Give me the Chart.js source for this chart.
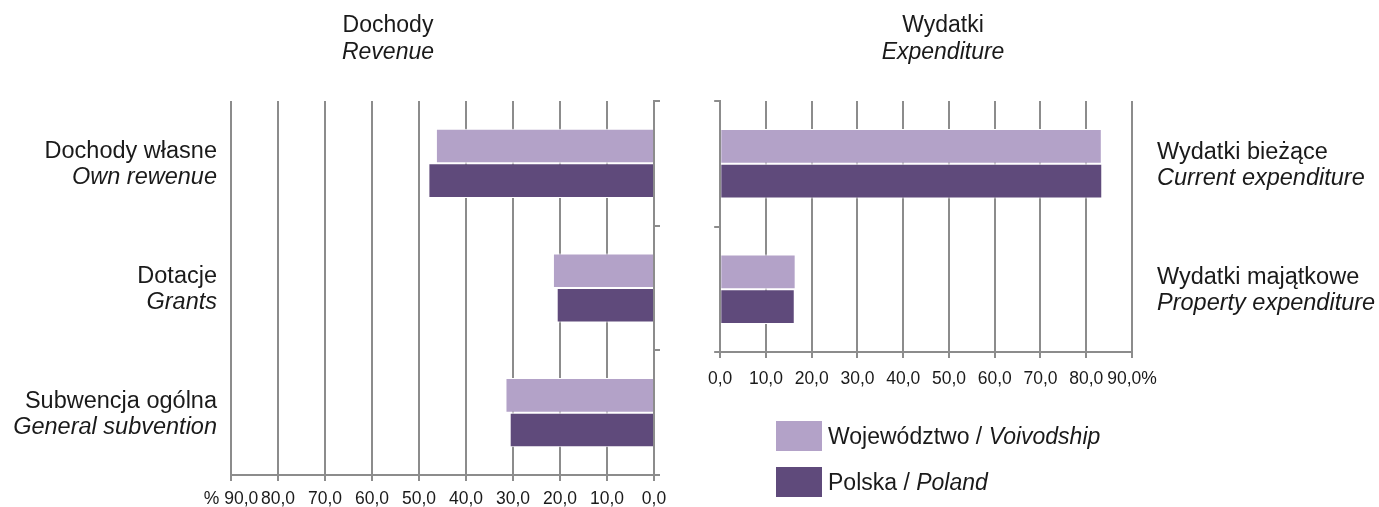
<!DOCTYPE html>
<html>
<head>
<meta charset="utf-8">
<script src="https://cdn.jsdelivr.net/npm/chart.js@4.4.1/dist/chart.umd.min.js"></script>
<style>
  body { margin: 0; background: #fff; font-family: "Liberation Sans", Arial, sans-serif; color: #1a1a1a; }
  #wrap { position: relative; width: 1379px; height: 507px; }
  .box { position: absolute; top: 0; height: 507px; }
  .title { position: absolute; font-size: 23px; line-height: 27px; text-align: center; width: 300px; }
  .title i, .leg i { font-style: italic; }
  .leg { position: absolute; left: 776px; font-size: 23px; line-height: 27px; }
  .leg span.sw { position: absolute; left: 0; width: 46px; height: 30px; }
  .leg span.tx { position: absolute; left: 52px; white-space: nowrap; }
</style>
</head>
<body>
<div id="wrap">
  <div class="box" style="left:0;width:700px"><canvas id="revenueChart"></canvas></div>
  <div class="box" style="left:697px;width:682px"><canvas id="expenditureChart"></canvas></div>
  <div class="title" style="left:238px;top:11px">Dochody<br><i>Revenue</i></div>
  <div class="title" style="left:793px;top:11px">Wydatki<br><i>Expenditure</i></div>
  <div id="legend"></div>
</div>
<script>
// dane
const revenuePl = ['Dochody własne', 'Dotacje', 'Subwencja ogólna'];
const revenueEn = ['Own rewenue', 'Grants', 'General subvention'];
const revenueWoj = [46.4, 21.5, 31.6];
const revenuePolska = [48.0, 20.7, 30.7];

const expenditurePl = ['Wydatki bieżące', 'Wydatki majątkowe'];
const expenditureEn = ['Current expenditure', 'Property expenditure'];
const expenditureWoj = [83.4, 16.5];
const expenditurePolska = [83.5, 16.3];

const seriesPl = ['Województwo', 'Polska'];
const seriesEn = ['Voivodship', 'Poland'];
const seriesColors = ['#b3a2c8', '#5f4a7b'];

const xTicks = [0, 10, 20, 30, 40, 50, 60, 70, 80, 90];

const FONT = '"Liberation Sans", Arial, sans-serif';
const GRID = '#8c8c8c';

function fmt(v) {
  return v.toFixed(1).replace('.', ',');
}

const categoryLabels = {
  id: 'categoryLabels',
  afterDraw(chart, args, opts) {
    const ctx = chart.ctx;
    const y = chart.scales.y;
    ctx.save();
    ctx.fillStyle = '#1a1a1a';
    ctx.textAlign = opts.align;
    ctx.textBaseline = 'alphabetic';
    opts.pl.forEach((txt, i) => {
      const yc = y.getPixelForValue(i);
      ctx.font = '23.5px ' + FONT;
      ctx.fillText(txt, opts.x, yc - 5);
      ctx.font = 'italic 23.5px ' + FONT;
      ctx.fillText(opts.en[i], opts.x, yc + 21);
    });
    ctx.restore();
  }
};

function datasets(woj, pol) {
  return [woj, pol].map((d, i) => ({
    label: seriesPl[i] + ' / ' + seriesEn[i],
    data: d,
    backgroundColor: seriesColors[i],
    borderColor: '#ffffff',
    borderWidth: 1,
    categoryPercentage: 0.555,
    barPercentage: 1
  }));
}

function makeChart(id, labels, woj, pol, side) {
  const left = side === 'left';
  return new Chart(document.getElementById(id).getContext('2d'), {
    type: 'bar',
    data: { labels: labels, datasets: datasets(woj, pol) },
    options: {
      indexAxis: 'y',
      responsive: true,
      maintainAspectRatio: false,
      animation: false,
      layout: {
        padding: left
          ? { left: 231, top: 101, right: 38, bottom: 0 }
          : { left: 15, top: 101, right: 247, bottom: 119 }
      },
      plugins: {
        legend: { display: false },
        tooltip: { enabled: false },
        categoryLabels: left
          ? { x: 217, align: 'right', pl: revenuePl, en: revenueEn }
          : { x: 460, align: 'left', pl: expenditurePl, en: expenditureEn }
      },
      scales: {
        x: {
          type: 'linear',
          min: 0,
          max: 90,
          reverse: left,
          afterBuildTicks: s => { s.ticks = xTicks.map(v => ({ value: v })); },
          afterFit: s => { s.height = left ? 32 : 36; },
          ticks: {
            color: '#1a1a1a',
            font: { family: FONT, size: 17.5 },
            padding: left ? 8 : 11,
            maxRotation: 0,
            autoSkip: false,
            callback: v => {
              if (v === 90) return left ? '% ' + fmt(v) : fmt(v) + '%';
              return fmt(v);
            }
          },
          grid: { color: GRID, lineWidth: 2, tickLength: 6 },
          border: { color: GRID, width: 2 }
        },
        y: {
          position: left ? 'right' : 'left',
          afterFit: s => { s.width = 8; },
          ticks: { display: false },
          grid: { drawOnChartArea: false, color: GRID, lineWidth: 2, tickLength: 6, offset: true },
          border: { color: GRID, width: 2 }
        }
      }
    },
    plugins: [categoryLabels]
  });
}

makeChart('revenueChart', revenuePl, revenueWoj, revenuePolska, 'left');
makeChart('expenditureChart', expenditurePl, expenditureWoj, expenditurePolska, 'right');

// legenda
const legend = document.getElementById('legend');
const legTops = [421, 467];
seriesPl.forEach((name, i) => {
  const row = document.createElement('div');
  row.className = 'leg';
  row.style.top = legTops[i] + 'px';
  row.innerHTML = '<span class="sw" style="background:' + seriesColors[i] + '"></span>' +
    '<span class="tx" style="top:2px">' + name + ' / <i>' + seriesEn[i] + '</i></span>';
  legend.appendChild(row);
});
</script>
</body>
</html>
